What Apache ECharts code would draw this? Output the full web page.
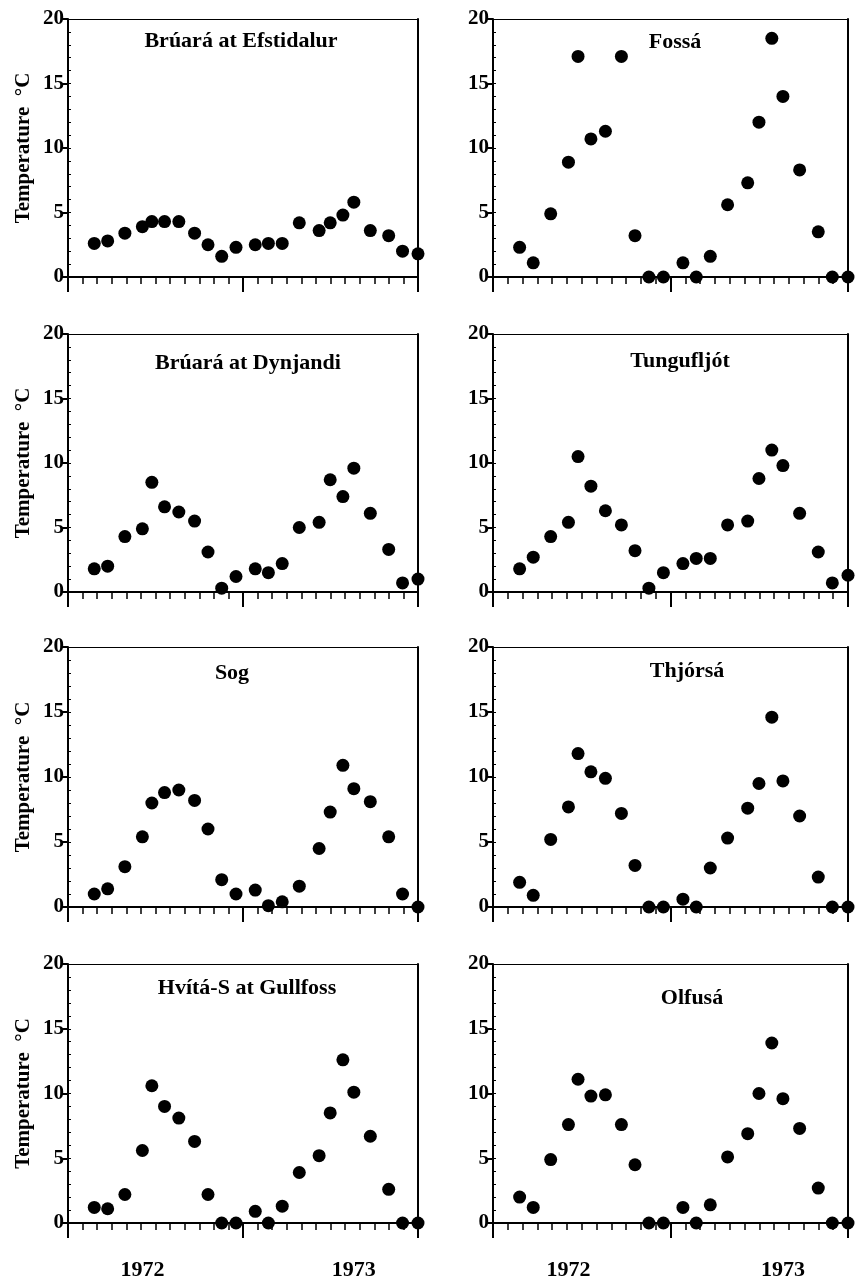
<!DOCTYPE html>
<html>
<head>
<meta charset="utf-8">
<script src="https://cdn.jsdelivr.net/npm/echarts@6/dist/echarts.min.js"></script>
<style>
html,body{margin:0;padding:0;background:#fff;}
#chart{width:857px;height:1281px;}
</style>
</head>
<body>
<div id="chart"></div>
<script>
// ---- data ----
var sampleMonths = [1.8, 2.72, 3.9, 5.1, 5.75, 6.62, 7.6, 8.68, 9.6, 10.54, 11.52, 12.84, 13.74, 14.69, 15.86, 17.22, 17.98, 18.85, 19.6, 20.73, 21.99, 22.94, 24];
var riverNames = ['Brúará at Efstidalur', 'Fossá', 'Brúará at Dynjandi', 'Tungufljót', 'Sog', 'Thjórsá', 'Hvítá-S at Gullfoss', 'Olfusá'];
var efstidalur = [2.6, 2.8, 3.4, 3.9, 4.3, 4.3, 4.3, 3.4, 2.5, 1.6, 2.3, 2.5, 2.6, 2.6, 4.2, 3.6, 4.2, 4.8, 5.8, 3.6, 3.2, 2.0, 1.8];
var fossa = [2.3, 1.1, 4.9, 8.9, 17.1, 10.7, 11.3, 17.1, 3.2, 0, 0, 1.1, 0, 1.6, 5.6, 7.3, 12.0, 18.5, 14.0, 8.3, 3.5, 0, 0];
var dynjandi = [1.8, 2.0, 4.3, 4.9, 8.5, 6.6, 6.2, 5.5, 3.1, 0.3, 1.2, 1.8, 1.5, 2.2, 5.0, 5.4, 8.7, 7.4, 9.6, 6.1, 3.3, 0.7, 1.0];
var tungufljot = [1.8, 2.7, 4.3, 5.4, 10.5, 8.2, 6.3, 5.2, 3.2, 0.3, 1.5, 2.2, 2.6, 2.6, 5.2, 5.5, 8.8, 11.0, 9.8, 6.1, 3.1, 0.7, 1.3];
var sog = [1.0, 1.4, 3.1, 5.4, 8.0, 8.8, 9.0, 8.2, 6.0, 2.1, 1.0, 1.3, 0.1, 0.4, 1.6, 4.5, 7.3, 10.9, 9.1, 8.1, 5.4, 1.0, 0];
var thjorsa = [1.9, 0.9, 5.2, 7.7, 11.8, 10.4, 9.9, 7.2, 3.2, 0, 0, 0.6, 0, 3.0, 5.3, 7.6, 9.5, 14.6, 9.7, 7.0, 2.3, 0, 0];
var hvita = [1.2, 1.1, 2.2, 5.6, 10.6, 9.0, 8.1, 6.3, 2.2, 0, 0, 0.9, 0, 1.3, 3.9, 5.2, 8.5, 12.6, 10.1, 6.7, 2.6, 0, 0];
var olfusa = [2.0, 1.2, 4.9, 7.6, 11.1, 9.8, 9.9, 7.6, 4.5, 0, 0, 1.2, 0, 1.4, 5.1, 6.9, 10.0, 13.9, 9.6, 7.3, 2.7, 0, 0];
var yearLabels = ['1972', '1973'];
var yearLabelPos = [5.1, 19.6];
var yTicks = [0, 5, 10, 15, 20];
var yAxisTitle = 'Temperature  °C';

var allSeries = [efstidalur, fossa, dynjandi, tungufljot, sog, thjorsa, hvita, olfusa];

// ---- layout ----
var colLeft = [68, 493];
var colWidth = [350, 355];
var rowTop = [19, 334, 647, 964];
var rowHeight = [258, 258, 260, 260];
var titleCx = [241, 675, 248, 680, 232, 687, 247, 692];
var titleDy = [24, 25, 31, 29, 28, 26, 26, 36];

var FONT = '"Liberation Serif", "Times New Roman", serif';
var grids = [], xAxes = [], yAxes = [], series = [], titles = [];
var xi = 0, yi = 0;

for (var i = 0; i < 8; i++) {
  var col = i % 2, row = Math.floor(i / 2);
  var isBottom = row === 3;
  grids.push({left: colLeft[col], width: colWidth[col], top: rowTop[row], height: rowHeight[row],
    show: false, containLabel: false});
  // main x axis
  var mainX = xi;
  xAxes.push({
    gridIndex: i, type: 'value', min: 0, max: 24, interval: 12, position: 'bottom',
    axisLine: {show: true, onZero: false, lineStyle: {color: '#000', width: 2}},
    axisTick: {show: true, length: 15, lineStyle: {color: '#000', width: 2}},
    minorTick: {show: true, splitNumber: 12, length: 7, lineStyle: {color: '#000', width: 1.5}},
    splitLine: {show: false}, minorSplitLine: {show: false},
    axisLabel: {show: isBottom, customValues: yearLabelPos, margin: 36,
      formatter: function (v) { return v < 12 ? yearLabels[0] : yearLabels[1]; },
      fontFamily: FONT, fontWeight: 'bold', fontSize: 22, color: '#000'}
  });
  xi++;
  // top border
  xAxes.push({
    gridIndex: i, type: 'value', min: 0, max: 24, position: 'top',
    axisLine: {show: true, onZero: false, lineStyle: {color: '#000', width: 1}},
    axisTick: {show: false}, axisLabel: {show: false}, splitLine: {show: false}
  });
  xi++;
  // main y axis
  var mainY = yi;
  yAxes.push({
    gridIndex: i, type: 'value', min: 0, max: 20, interval: 5, position: 'left',
    axisLine: {show: true, onZero: false, lineStyle: {color: '#000', width: 2}},
    axisTick: {show: true, length: 6, lineStyle: {color: '#000', width: 2}},
    splitLine: {show: false},
    axisLabel: {show: true, margin: 4, fontFamily: FONT, fontWeight: 'bold', fontSize: 21, color: '#000',
      customValues: yTicks},
    name: col === 0 ? yAxisTitle : '',
    nameLocation: 'middle', nameGap: 34,
    nameTextStyle: {fontFamily: FONT, fontWeight: 'bold', fontSize: 21, color: '#000'}
  });
  yi++;
  // inner minor ticks on y axis
  yAxes.push({
    gridIndex: i, type: 'value', min: 0, max: 20, interval: 1, position: 'left',
    axisLine: {show: false}, axisLabel: {show: false}, splitLine: {show: false},
    axisTick: {show: true, inside: true, length: 3, lineStyle: {color: '#000', width: 1}}
  });
  yi++;
  // right border
  yAxes.push({
    gridIndex: i, type: 'value', min: 0, max: 20, position: 'right',
    axisLine: {show: true, onZero: false, lineStyle: {color: '#000', width: 2}},
    axisTick: {show: false}, axisLabel: {show: false}, splitLine: {show: false}
  });
  yi++;

  var vals = allSeries[i];
  var pts = sampleMonths.map(function (m, k) { return [m, vals[k]]; });
  series.push({
    type: 'scatter', xAxisIndex: mainX, yAxisIndex: mainY, data: pts,
    symbol: 'circle', symbolSize: 13, clip: false,
    itemStyle: {color: '#000', opacity: 1}, silent: true, animation: false
  });

  titles.push({
    text: riverNames[i], left: titleCx[i], top: rowTop[row] + titleDy[i] - 13, textAlign: 'center',
    padding: 0,
    textStyle: {fontFamily: FONT, fontWeight: 'bold', fontSize: 22, color: '#000'}
  });
}

var chart = echarts.init(document.getElementById('chart'), null, {renderer: 'canvas'});
chart.setOption({
  animation: false,
  backgroundColor: '#fff',
  title: titles,
  grid: grids,
  xAxis: xAxes,
  yAxis: yAxes,
  series: series
});
</script>
</body>
</html>
